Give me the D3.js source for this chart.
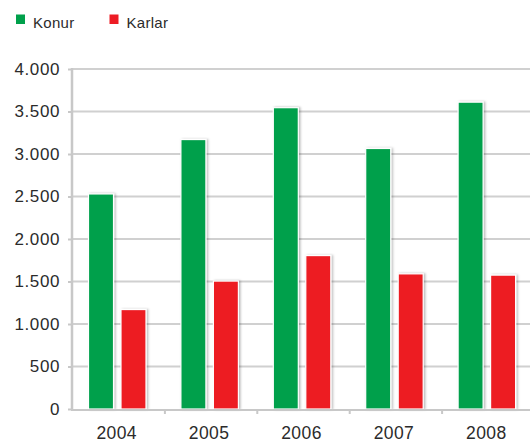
<!DOCTYPE html>
<html><head><meta charset="utf-8">
<script src="https://cdn.jsdelivr.net/npm/d3@7"></script>
<style>
html,body{margin:0;padding:0;background:#fff;}
svg{display:block;}
text{font-family:"Liberation Sans",Arial,sans-serif;fill:#2b2b2b;}
</style></head>
<body>
<script>
const categories = ["2004","2005","2006","2007","2008"];
const seriesNames = ["Konur","Karlar"];
const konur = [2530, 3170, 3545, 3065, 3610];
const karlar = [1170, 1505, 1805, 1590, 1575];
const yTicks = [0,500,1000,1500,2000,2500,3000,3500,4000];
const colors = ["#00a04b","#ed1c24"];

const W = 530, H = 443;
const svg = d3.select("body").append("svg").attr("width", W).attr("height", H);

const defs = svg.append("defs");
const f = defs.append("filter").attr("id","sh").attr("x","-30%").attr("y","-10%").attr("width","160%").attr("height","120%");
f.append("feDropShadow").attr("dx",1.5).attr("dy",0).attr("stdDeviation",1.3).attr("flood-color","#000").attr("flood-opacity",0.28);

const x0 = d3.scaleBand().domain(categories).range([72.5, 534.5]).paddingInner(0).paddingOuter(0);
const x1 = d3.scaleBand().domain(seriesNames).range([16, 73.5]).paddingInner(0.23);
const y = d3.scaleLinear().domain([0, 4000]).range([409, 69]);

// gridlines
svg.append("g").selectAll("line").data(yTicks.filter(d=>d>0)).join("line")
  .attr("x1", 72).attr("x2", W).attr("y1", d=>y(d)).attr("y2", d=>y(d))
  .attr("stroke", "#d0d0d0").attr("stroke-width", 2);

// y axis
const yAxis = d3.axisLeft(y).tickValues(yTicks).tickSize(4).tickPadding(8)
  .tickFormat(d => d3.format(",")(d).replace(/,/g, "."));
const gy = svg.append("g").attr("transform", "translate(72,0)").call(yAxis);
gy.select(".domain").remove();
gy.selectAll(".tick line").attr("stroke", "#c8c8c8").attr("stroke-width", 2);
gy.selectAll(".tick text").attr("font-size", 17).attr("letter-spacing", 0.6).attr("fill", "#2b2b2b")
  .attr("font-family", "Liberation Sans, Arial, sans-serif");
svg.append("line").attr("x1", 72).attr("x2", 72).attr("y1", y(4000)-1).attr("y2", y(0)+1)
  .attr("stroke", "#c8c8c8").attr("stroke-width", 2.5);

// bars
const data = categories.map((c, i) => ({cat: c, vals: [konur[i], karlar[i]]}));
const groups = svg.append("g").selectAll("g").data(data).join("g")
  .attr("transform", d => `translate(${x0(d.cat)},0)`);
groups.selectAll("rect").data(d => d.vals.map((v, j) => ({name: seriesNames[j], v, j}))).join("rect")
  .attr("x", d => x1(d.name)).attr("width", x1.bandwidth())
  .attr("y", d => y(d.v)).attr("height", d => y(0) - y(d.v))
  .attr("fill", d => colors[d.j]).attr("stroke", "#fff").attr("stroke-width", 1.2)
  .attr("filter", "url(#sh)");

// x axis
svg.append("line").attr("x1", 71).attr("x2", W).attr("y1", 410).attr("y2", 410)
  .attr("stroke", "#c8c8c8").attr("stroke-width", 2);
const gx = svg.append("g");
gx.selectAll("line").data(categories).join("line")
  .attr("x1", d => x0(d) + x0.bandwidth()).attr("x2", d => x0(d) + x0.bandwidth())
  .attr("y1", 410).attr("y2", 414).attr("stroke", "#c8c8c8").attr("stroke-width", 2);
gx.selectAll("text").data(categories).join("text")
  .attr("x", d => x0(d) + x0.bandwidth()/2 - 2).attr("y", 439)
  .attr("text-anchor", "middle").attr("font-size", 17.5).attr("letter-spacing", 0.4).text(d => d);

// legend
const leg = svg.append("g").selectAll("g").data(seriesNames).join("g")
  .attr("transform", (d, i) => `translate(${i === 0 ? 16 : 109.5},0)`);
leg.append("rect").attr("x", 0).attr("y", 14.5).attr("width", 9).attr("height", 9.5)
  .attr("fill", (d, i) => colors[i]);
leg.append("text").attr("x", 17).attr("y", 28).attr("font-size", 15).attr("letter-spacing", 0.3).text(d => d);
</script>
</body></html>
